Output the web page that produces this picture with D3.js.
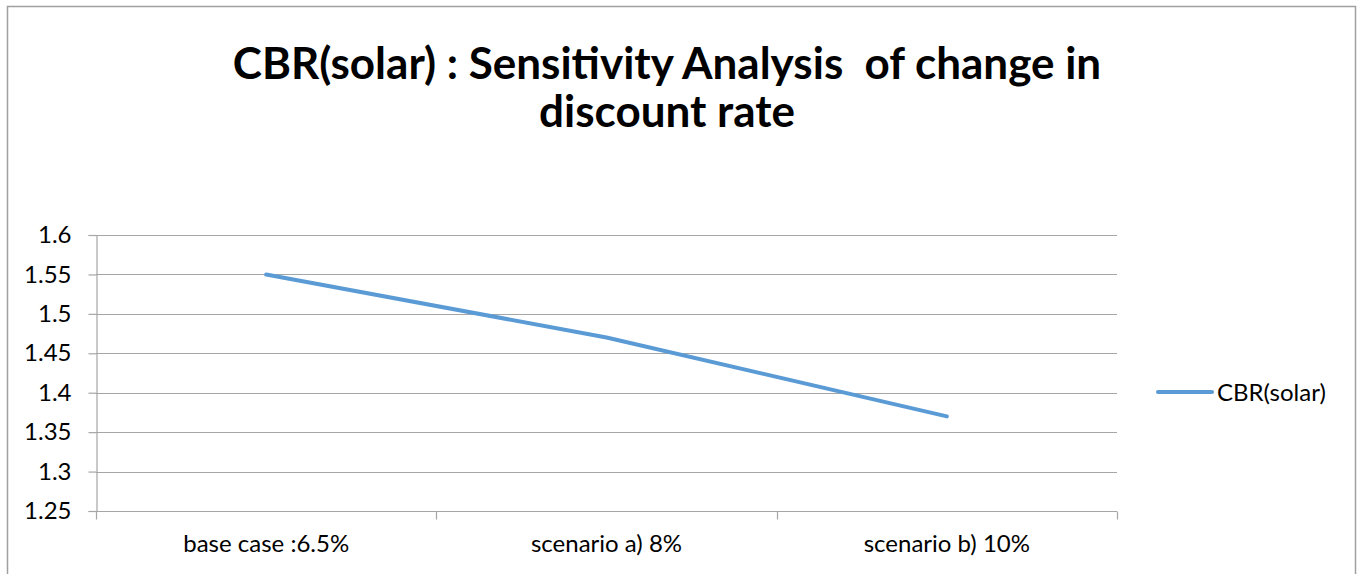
<!DOCTYPE html>
<html>
<head>
<meta charset="utf-8">
<script src="https://cdn.jsdelivr.net/npm/d3@7"></script>
<style>
  html, body { margin: 0; padding: 0; background: #fff; }
  svg { display: block; }
  text { font-family: Lato, "Open Sans", "Noto Sans", sans-serif; fill: #000; }
</style>
</head>
<body>
<svg id="chart" width="1360" height="574"></svg>
<script>
// Scenario categories and the cost-benefit ratio for each
const categories = ["base case :6.5%", "scenario a) 8%", "scenario b) 10%"];
const cbrSolar = [1.55, 1.47, 1.37];
const seriesName = "CBR(solar)";
const yTicks = [1.25, 1.3, 1.35, 1.4, 1.45, 1.5, 1.55, 1.6];
const titleLines = ["CBR(solar) : Sensitivity Analysis  of change in", "discount rate"];

const W = 1360, H = 574;
const plot = { left: 96, right: 1117, top: 235, bottom: 511 };
const lineColor = "#5B9BD5";
const gridColor = "#A6A6A6";

const svg = d3.select("#chart");

// chart frame
svg.append("rect")
  .attr("x", 7.5).attr("y", 6.5)
  .attr("width", 1348).attr("height", 600)
  .attr("fill", "#fff")
  .attr("stroke", "#A0A0A0").attr("stroke-width", 1.5);

// title (keeps the double space between words)
const title = svg.append("text")
  .attr("text-anchor", "middle")
  .attr("font-weight", "bold")
  .attr("font-size", 44)
  .style("white-space", "pre");
titleLines.forEach((t, i) => {
  title.append("tspan")
    .attr("x", 667)
    .attr("y", 79 + i * 48)
    .text(t);
});

const x = d3.scaleBand().domain(categories).range([plot.left, plot.right]);
const y = d3.scaleLinear().domain([1.25, 1.6]).range([plot.bottom, plot.top]);

// horizontal gridlines
svg.append("g")
  .selectAll("line")
  .data(yTicks.filter(v => v > 1.25))
  .join("line")
  .attr("x1", plot.left).attr("x2", plot.right)
  .attr("y1", d => Math.round(y(d)) + 0.5).attr("y2", d => Math.round(y(d)) + 0.5)
  .attr("stroke", gridColor).attr("stroke-width", 1.2);

// y axis
const yAxis = svg.append("g")
  .attr("transform", `translate(${plot.left + 0.5},0)`)
  .call(d3.axisLeft(y).tickValues(yTicks).tickFormat(d3.format("")).tickSize(8).tickPadding(17));
yAxis.select(".domain").attr("stroke", gridColor).attr("stroke-width", 1.2);
yAxis.selectAll(".tick line").attr("stroke", gridColor).attr("stroke-width", 1.2);
yAxis.selectAll(".tick text")
  .attr("font-family", "Lato, 'Open Sans', sans-serif")
  .attr("font-size", 24).attr("fill", "#000");

// x axis with ticks at category boundaries
const xAxisG = svg.append("g").attr("transform", `translate(0,${plot.bottom + 0.5})`);
xAxisG.append("line")
  .attr("x1", plot.left).attr("x2", plot.right)
  .attr("stroke", gridColor).attr("stroke-width", 1.2);
const bounds = categories.map(c => x(c)).concat([x(categories[categories.length - 1]) + x.bandwidth()]);
xAxisG.selectAll("line.tk")
  .data(bounds)
  .join("line").attr("class", "tk")
  .attr("x1", d => Math.round(d) + 0.5).attr("x2", d => Math.round(d) + 0.5)
  .attr("y1", 0).attr("y2", 8)
  .attr("stroke", gridColor).attr("stroke-width", 1.2);
xAxisG.selectAll("text")
  .data(categories)
  .join("text")
  .attr("x", d => x(d) + x.bandwidth() / 2)
  .attr("y", 40)
  .attr("text-anchor", "middle")
  .attr("font-size", 24)
  .text(d => d);

// series line
const line = d3.line()
  .x((d, i) => x(categories[i]) + x.bandwidth() / 2)
  .y(d => y(d));
svg.append("path")
  .datum(cbrSolar)
  .attr("d", line)
  .attr("fill", "none")
  .attr("stroke", lineColor)
  .attr("stroke-width", 4)
  .attr("stroke-linecap", "round")
  .attr("stroke-linejoin", "round");

// legend
const legend = svg.append("g").attr("transform", "translate(1158,392)");
legend.append("line")
  .attr("x1", 0).attr("x2", 54)
  .attr("stroke", lineColor).attr("stroke-width", 4)
  .attr("stroke-linecap", "round");
legend.append("text")
  .attr("x", 59).attr("y", 9)
  .attr("font-size", 24)
  .text(seriesName);
</script>
</body>
</html>
